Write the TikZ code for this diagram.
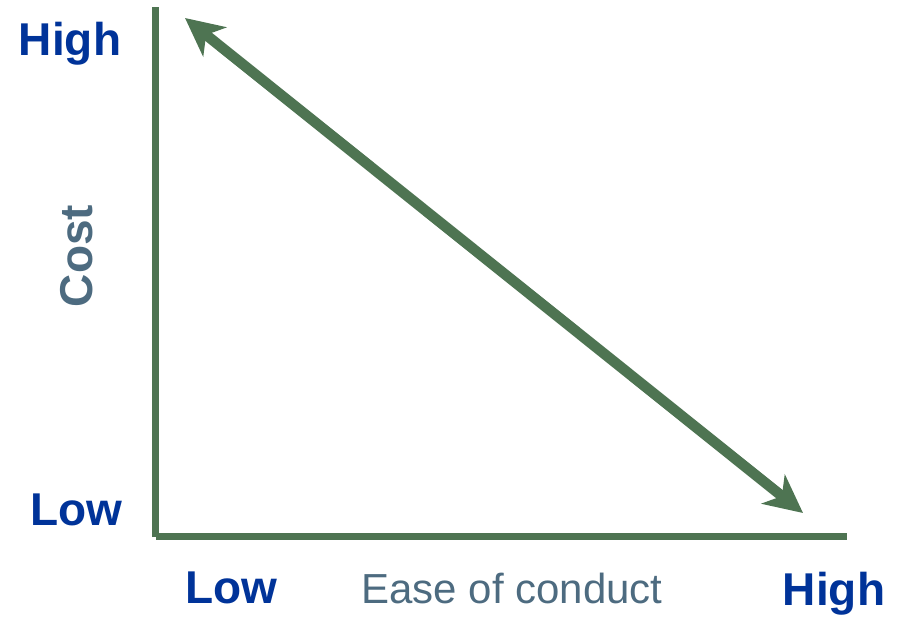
\documentclass[tikz,border=0pt]{standalone}
\usepackage{fontspec}
\setmainfont{Liberation Sans}
\usetikzlibrary{arrows.meta,positioning}
\definecolor{cAxis}{HTML}{4E7452}
\definecolor{cEnd}{HTML}{003399}
\definecolor{cTitle}{HTML}{4D6B80}
\tikzset{
  axisline/.style={draw=cAxis,line width=7pt,line cap=butt},
  trend/.style={draw=cAxis,line width=10.5pt,
      {Stealth[length=38pt,width=37pt,inset=11pt]}-{Stealth[length=38pt,width=37pt,inset=11pt]}},
  endlab/.style={font=\bfseries\fontsize{46}{50}\selectfont,text=cEnd,inner sep=0pt,anchor=base},
}

\begin{document}
\begin{tikzpicture}[x=1pt,y=-1pt,
  axlab/.style={font=\fontsize{42}{46}\selectfont,text=cTitle,inner sep=0pt,anchor=base},
  costlab/.style={font=\bfseries\fontsize{46}{50}\selectfont,text=cTitle,inner sep=0pt,
    rotate=90,anchor=base}]

  \useasboundingbox (0,0) rectangle (904,617);

  \coordinate (origin) at (155.5,537);
  \coordinate (yTop) at (155.5,7);
  \coordinate (xStart) at (156,536.5);
  \coordinate (xEnd) at (847,536.5);
  \coordinate (costHigh) at (185,18);
  \coordinate (easeHigh) at (803,513);

  \draw[axisline] (origin) -- (yTop);
  \draw[axisline] (xStart) -- (xEnd);
  \draw[trend] (costHigh) -- (easeHigh);

  \node[endlab] (yHigh) at (70,56) {High};
  \node[endlab] (yLow) at (76,525) {Low};
  \node[costlab] (yTitle) at (92,256) {Cost};
  \node[endlab] (xLow) at (231,603) {Low};
  \node[axlab] (xTitle) at (512,603) {Ease of conduct};
  \node[endlab] (xHigh) at (834,605) {High};
\end{tikzpicture}
\end{document}
